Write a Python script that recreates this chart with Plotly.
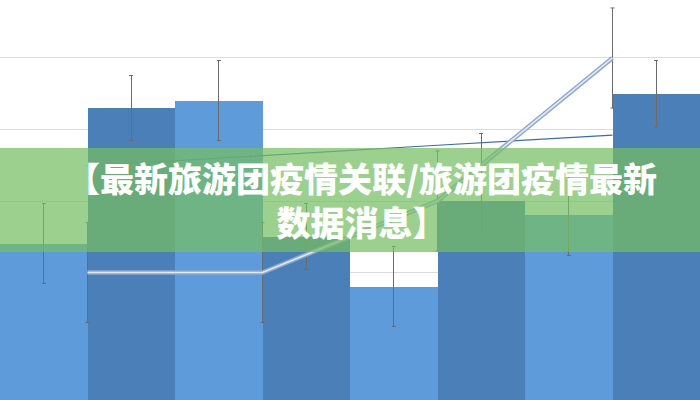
import plotly.graph_objects as go

categories = ["A", "B", "C", "D"]
series_light = [2.4, 4.4, 1.8, 2.8]
series_light_err = [0.56, 0.56, 0.56, 0.56]
series_dark = [4.3, 2.5, 3.0, 4.5]
series_dark_err_plus = [0.46, 0.46, 0.95, 0.46]
series_dark_err_minus = [0.46, 0.46, 0.46, 0.46]
line_main = [2.0, 2.0, 3.0, 5.0]
line_main_err = [0.7, 0.7, 0.7, 0.7]
line_thin = [3.49, 3.64, 3.78, 3.92]
title_line1 = "【最新旅游团疫情关联/旅游团疫情最新"
title_line2 = "数据消息】"

err_color = "#6b6b6b"

fig = go.Figure()
fig.add_trace(go.Bar(
    x=categories, y=series_light,
    marker=dict(color="#5d9bdb", line=dict(width=0)),
    error_y=dict(type="data", array=series_light_err, color=err_color, thickness=1, width=2),
))
fig.add_trace(go.Bar(
    x=categories, y=series_dark,
    marker=dict(color="#4a7fb8", line=dict(width=0)),
    error_y=dict(type="data", array=series_dark_err_plus, arrayminus=series_dark_err_minus,
                 symmetric=False, color=err_color, thickness=1, width=2),
))
fig.add_trace(go.Scatter(
    x=categories, y=line_thin, mode="lines",
    line=dict(color="#3f6e9e", width=1.2),
))
fig.add_trace(go.Scatter(
    x=categories, y=line_main, mode="lines",
    line=dict(color="#8fa9cc", width=4.5),
    error_y=dict(type="data", array=line_main_err, color=err_color, thickness=1, width=2),
))
fig.add_trace(go.Scatter(
    x=categories, y=line_main, mode="lines",
    line=dict(color="#dfe8f4", width=1.6),
))

fig.add_shape(type="rect", xref="paper", yref="paper", x0=0, x1=1, y0=0.37, y1=0.63,
              fillcolor="rgba(118,190,98,0.72)", line=dict(width=0), layer="above")

fig.add_annotation(text=title_line1 + "<br>" + title_line2, xref="paper", yref="paper",
                   x=0.517, y=0.501, xanchor="center", yanchor="middle", align="center",
                   showarrow=False,
                   font=dict(family="Noto Sans CJK SC", size=34, color="white", weight=900))

fig.update_layout(
    width=700, height=400,
    margin=dict(l=0, r=0, t=0, b=0),
    paper_bgcolor="white", plot_bgcolor="white",
    barmode="group", bargap=0, bargroupgap=0,
    showlegend=False, hovermode=False,
    xaxis=dict(range=[-0.5, 3.5], showticklabels=False, showgrid=False, zeroline=False, ticks=""),
    yaxis=dict(range=[0.217, 5.811], dtick=1, tick0=0, showticklabels=False,
               showgrid=True, gridcolor="#dcdcdc", gridwidth=1, zeroline=False, ticks=""),
)

fig.write_html("out.html", config={"displayModeBar": False, "staticPlot": True},
               post_script="document.body.style.margin='0';document.body.style.overflow='hidden';")
